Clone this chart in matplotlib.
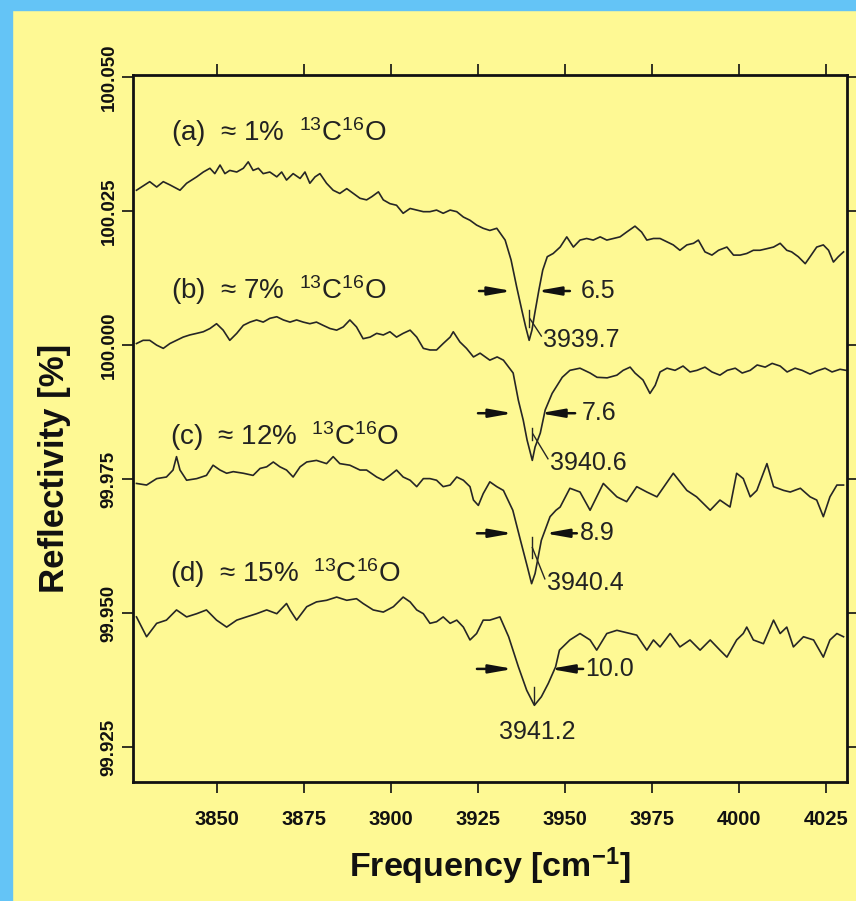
import matplotlib
matplotlib.use('Agg')
import matplotlib.pyplot as plt
from matplotlib.patches import Rectangle

plt.rcParams['font.family'] = ['Liberation Sans', 'DejaVu Sans']
plt.rcParams['mathtext.default'] = 'regular'

# ---------------- data ----------------
freq_a = [3826.9, 3830.7, 3832.7, 3834.6, 3836.5, 3839.4, 3841.3, 3844.2, 3846.1, 3848.0,
          3849.4, 3850.9, 3852.3, 3853.7, 3855.7, 3857.6, 3859.0, 3860.4, 3861.9, 3863.3,
          3865.2, 3867.2, 3868.6, 3870.0, 3871.9, 3873.9, 3875.3, 3876.7, 3878.2, 3879.6,
          3881.5, 3883.4, 3885.3, 3887.3, 3889.2, 3891.1, 3893.0, 3894.5, 3896.4, 3897.8,
          3899.7, 3901.6, 3903.5, 3905.5, 3907.4, 3909.3, 3911.2, 3913.1, 3915.0, 3917.0,
          3918.9, 3920.8, 3922.7, 3924.6, 3926.5, 3928.4, 3930.4, 3932.8, 3934.5, 3936.1,
          3937.6, 3938.7, 3939.7, 3940.5, 3941.3, 3942.5, 3943.6, 3944.9, 3946.6, 3948.6,
          3950.5, 3952.4, 3954.3, 3956.2, 3958.1, 3960.1, 3962.0, 3963.9, 3965.8, 3967.7,
          3970.1, 3972.0, 3973.5, 3975.4, 3977.3, 3979.2, 3981.1, 3983.0, 3985.0, 3986.9,
          3988.3, 3990.2, 3992.2, 3994.1, 3996.5, 3998.4, 4000.3, 4002.2, 4004.1, 4006.0,
          4008.0, 4009.9, 4011.8, 4013.7, 4015.1, 4017.0, 4019.0, 4020.4, 4022.3, 4024.2,
          4025.7, 4027.1, 4028.5, 4030.0]
refl_a = [100.0289, 100.0305, 100.0295, 100.0305, 100.0299, 100.0289, 100.0302, 100.0314, 100.0323, 100.0330,
          100.0320, 100.0336, 100.0320, 100.0326, 100.0323, 100.0330, 100.0342, 100.0326, 100.0330, 100.0320,
          100.0323, 100.0314, 100.0323, 100.0308, 100.0320, 100.0311, 100.0323, 100.0302, 100.0314, 100.0320,
          100.0302, 100.0289, 100.0283, 100.0292, 100.0283, 100.0274, 100.0271, 100.0277, 100.0286, 100.0271,
          100.0264, 100.0261, 100.0246, 100.0255, 100.0252, 100.0249, 100.0249, 100.0252, 100.0246, 100.0252,
          100.0249, 100.0239, 100.0233, 100.0224, 100.0218, 100.0214, 100.0218, 100.0196, 100.0159, 100.0109,
          100.0065, 100.0034, 100.0009, 100.0028, 100.0059, 100.0103, 100.0140, 100.0165, 100.0171, 100.0183,
          100.0202, 100.0183, 100.0196, 100.0199, 100.0196, 100.0202, 100.0196, 100.0199, 100.0202, 100.0211,
          100.0222, 100.0211, 100.0196, 100.0199, 100.0199, 100.0193, 100.0187, 100.0177, 100.0187, 100.0190,
          100.0196, 100.0174, 100.0168, 100.0177, 100.0183, 100.0168, 100.0168, 100.0171, 100.0177, 100.0177,
          100.0180, 100.0183, 100.0190, 100.0177, 100.0174, 100.0165, 100.0152, 100.0165, 100.0183, 100.0187,
          100.0177, 100.0155, 100.0165, 100.0174]

freq_b = [3826.9, 3828.8, 3830.7, 3832.7, 3834.6, 3836.5, 3838.4, 3840.3, 3842.2, 3844.2,
          3846.1, 3848.0, 3849.9, 3851.8, 3853.7, 3855.7, 3857.6, 3859.5, 3861.4, 3863.3,
          3865.2, 3867.2, 3869.1, 3871.0, 3872.9, 3874.8, 3876.7, 3878.6, 3880.5, 3882.5,
          3884.4, 3886.3, 3888.2, 3890.1, 3892.0, 3894.0, 3895.9, 3897.8, 3899.7, 3901.6,
          3903.5, 3905.5, 3907.4, 3909.3, 3911.2, 3913.1, 3915.0, 3917.0, 3917.9, 3919.8,
          3921.7, 3923.7, 3925.6, 3928.4, 3930.5, 3932.3, 3935.1, 3936.6, 3938.0, 3939.1,
          3940.6, 3941.4, 3942.9, 3944.3, 3946.3, 3949.2, 3951.4, 3954.3, 3957.2, 3959.2,
          3962.1, 3964.9, 3966.7, 3968.7, 3970.1, 3972.4, 3974.4, 3975.9, 3977.3, 3979.3,
          3981.6, 3983.9, 3985.9, 3987.9, 3990.2, 3992.2, 3994.5, 3996.6, 3998.9, 4000.9,
          4003.2, 4005.2, 4007.5, 4009.5, 4011.8, 4013.8, 4016.1, 4018.1, 4020.4, 4022.4,
          4024.7, 4026.7, 4029.0, 4030.7]
refl_b = [100.0003, 100.0009, 100.0009, 100.0000, 99.9994, 100.0003, 100.0009, 100.0015, 100.0019, 100.0022,
          100.0025, 100.0031, 100.0040, 100.0028, 100.0009, 100.0022, 100.0037, 100.0043, 100.0047, 100.0043,
          100.0050, 100.0053, 100.0047, 100.0043, 100.0047, 100.0043, 100.0040, 100.0043, 100.0037, 100.0031,
          100.0028, 100.0034, 100.0047, 100.0034, 100.0012, 100.0015, 100.0022, 100.0019, 100.0025, 100.0015,
          100.0022, 100.0028, 100.0015, 99.9994, 99.9991, 99.9991, 100.0003, 100.0015, 100.0025, 100.0006,
          99.9994, 99.9978, 99.9985, 99.9972, 99.9978, 99.9972, 99.9948, 99.9897, 99.9860, 99.9823,
          99.9785, 99.9810, 99.9836, 99.9879, 99.9910, 99.9940, 99.9953, 99.9957, 99.9948, 99.9940,
          99.9939, 99.9944, 99.9953, 99.9959, 99.9948, 99.9935, 99.9910, 99.9925, 99.9950, 99.9957,
          99.9953, 99.9961, 99.9950, 99.9953, 99.9959, 99.9950, 99.9944, 99.9953, 99.9957, 99.9948,
          99.9953, 99.9963, 99.9959, 99.9966, 99.9961, 99.9950, 99.9957, 99.9953, 99.9946, 99.9952,
          99.9957, 99.9950, 99.9955, 99.9953]

freq_c = [3826.9, 3829.8, 3832.7, 3835.5, 3837.4, 3838.4, 3839.4, 3841.3, 3844.2, 3847.0,
          3848.9, 3850.9, 3852.8, 3854.7, 3857.6, 3860.4, 3862.4, 3864.3, 3866.2, 3868.1,
          3870.0, 3871.9, 3873.9, 3875.8, 3878.6, 3881.5, 3883.4, 3885.3, 3888.2, 3891.1,
          3893.0, 3895.9, 3897.8, 3899.7, 3901.6, 3903.5, 3905.5, 3907.4, 3909.3, 3911.2,
          3913.1, 3915.0, 3917.0, 3918.9, 3920.8, 3922.7, 3923.7, 3925.1, 3926.5, 3928.4,
          3930.4, 3932.3, 3935.0, 3937.2, 3939.2, 3940.4, 3941.4, 3943.2, 3945.7, 3947.4,
          3948.6, 3951.4, 3954.3, 3957.2, 3961.0, 3964.9, 3967.7, 3970.6, 3973.5, 3976.4,
          3981.1, 3985.0, 3987.8, 3991.7, 3994.5, 3997.4, 3999.3, 4001.2, 4003.2, 4005.1,
          4008.0, 4009.9, 4012.8, 4014.7, 4017.6, 4020.4, 4022.3, 4024.2, 4026.1, 4028.1,
          4030.0]
refl_c = [99.9742, 99.9739, 99.9751, 99.9754, 99.9767, 99.9792, 99.9767, 99.9748, 99.9751, 99.9757,
          99.9776, 99.9767, 99.9761, 99.9764, 99.9761, 99.9757, 99.9770, 99.9773, 99.9782, 99.9773,
          99.9767, 99.9754, 99.9773, 99.9782, 99.9785, 99.9779, 99.9792, 99.9779, 99.9776, 99.9767,
          99.9767, 99.9754, 99.9748, 99.9757, 99.9767, 99.9754, 99.9748, 99.9736, 99.9751, 99.9751,
          99.9748, 99.9736, 99.9739, 99.9754, 99.9748, 99.9736, 99.9711, 99.9701, 99.9723, 99.9745,
          99.9736, 99.9729, 99.9692, 99.9636, 99.9586, 99.9555, 99.9574, 99.9636, 99.9680, 99.9692,
          99.9698, 99.9733, 99.9726, 99.9692, 99.9742, 99.9717, 99.9708, 99.9736, 99.9726, 99.9717,
          99.9761, 99.9729, 99.9717, 99.9692, 99.9711, 99.9698, 99.9761, 99.9751, 99.9717, 99.9729,
          99.9779, 99.9736, 99.9729, 99.9726, 99.9733, 99.9717, 99.9711, 99.9680, 99.9717, 99.9739,
          99.9739]

freq_d = [3826.9, 3829.8, 3832.7, 3835.5, 3838.4, 3841.3, 3844.2, 3847.0, 3849.9, 3852.8,
          3855.7, 3858.5, 3861.4, 3864.3, 3867.2, 3870.0, 3871.0, 3872.9, 3875.8, 3878.6,
          3881.5, 3884.4, 3887.3, 3890.1, 3892.0, 3894.9, 3897.8, 3900.7, 3903.5, 3905.5,
          3907.4, 3909.3, 3911.2, 3913.1, 3915.0, 3917.0, 3918.9, 3920.8, 3922.7, 3924.6,
          3926.5, 3928.4, 3931.3, 3933.8, 3936.6, 3939.0, 3941.2, 3943.2, 3945.2, 3947.3,
          3948.4, 3951.4, 3954.3, 3957.2, 3959.1, 3962.0, 3964.9, 3968.7, 3970.6, 3973.5,
          3975.4, 3977.3, 3980.2, 3983.0, 3985.9, 3988.8, 3991.7, 3994.5, 3996.5, 3999.3,
          4001.2, 4002.2, 4004.1, 4007.0, 4009.9, 4011.8, 4013.7, 4015.6, 4018.5, 4021.4,
          4024.2, 4026.1, 4028.1, 4030.0]
refl_d = [99.9493, 99.9456, 99.9481, 99.9487, 99.9506, 99.9493, 99.9499, 99.9506, 99.9487, 99.9474,
          99.9487, 99.9493, 99.9499, 99.9506, 99.9499, 99.9518, 99.9506, 99.9487, 99.9512, 99.9521,
          99.9524, 99.9530, 99.9524, 99.9527, 99.9518, 99.9506, 99.9502, 99.9512, 99.9530, 99.9521,
          99.9506, 99.9499, 99.9481, 99.9484, 99.9493, 99.9481, 99.9487, 99.9474, 99.9450, 99.9462,
          99.9487, 99.9487, 99.9493, 99.9456, 99.9400, 99.9356, 99.9328, 99.9344, 99.9369, 99.9400,
          99.9431, 99.9450, 99.9462, 99.9450, 99.9431, 99.9462, 99.9468, 99.9462, 99.9459, 99.9431,
          99.9450, 99.9437, 99.9462, 99.9437, 99.9450, 99.9431, 99.9450, 99.9431, 99.9418, 99.9450,
          99.9462, 99.9474, 99.9450, 99.9443, 99.9487, 99.9462, 99.9474, 99.9437, 99.9456, 99.9450,
          99.9418, 99.9450, 99.9462, 99.9456]

series_labels = ['(a)  \u2248 1%  $^{13}$C$^{16}$O', '(b)  \u2248 7%  $^{13}$C$^{16}$O',
                 '(c)  \u2248 12%  $^{13}$C$^{16}$O', '(d)  \u2248 15%  $^{13}$C$^{16}$O']
label_pos = [(3836.8, 100.0397), (3836.8, 100.0103), (3836.5, 99.9830), (3836.5, 99.9575)]

fwhm_text = ['6.5', '7.6', '8.9', '10.0']
fwhm_y = [100.0101, 99.9873, 99.9649, 99.9396]
fwhm_left = [(3925.3, 3934.8), (3925.0, 3935.1), (3924.7, 3935.1), (3924.7, 3935.1)]
fwhm_right = [(3951.4, 3941.9), (3952.9, 3942.8), (3953.4, 3944.2), (3955.2, 3945.7)]
fwhm_text_x = [3954.6, 3954.9, 3954.3, 3955.7]

peak_text = ['3939.7', '3940.6', '3940.4', '3941.2']
peak_x = [3939.7, 3940.6, 3940.4, 3941.2]
peak_mark = [(100.0065, 100.0034), (99.9845, 99.9823), (99.9642, 99.9603), (99.9362, 99.9332)]
peak_text_pos = [(3943.8, 100.0009), (3945.7, 99.9780), (3944.8, 99.9556), (3942.0, 99.9278)]

xticks = [3850, 3875, 3900, 3925, 3950, 3975, 4000, 4025]
yticks = [99.925, 99.950, 99.975, 100.000, 100.025, 100.050]
ytick_labels = ['99.925', '99.950', '99.975', '100.000', '100.025', '100.050']

# ---------------- figure ----------------
W, H = 856, 901
yellow = '#FEF994'
blue = '#64C4F6'
ink = '#222222'
fig = plt.figure(figsize=(W / 100, H / 100), dpi=100)
fig.patch.set_facecolor(yellow)
fig.add_artist(Rectangle((0, 0), 12 / W, 1, transform=fig.transFigure, color=blue, zorder=0))
fig.add_artist(Rectangle((0, 1 - 10 / H), 1, 10 / H, transform=fig.transFigure, color=blue, zorder=0))

ax = fig.add_axes([133 / W, 1 - 782 / H, (847 - 133) / W, (782 - 75) / H])
ax.set_facecolor(yellow)
ax.set_xlim(3825.9, 4031.0)
ax.set_ylim(99.9185, 100.0504)

line_col = '#262626'
for fx, ry in [(freq_a, refl_a), (freq_b, refl_b), (freq_c, refl_c), (freq_d, refl_d)]:
    ax.plot(fx, ry, color=line_col, lw=1.2)

for txt, (lx, ly) in zip(series_labels, label_pos):
    ax.text(lx, ly, txt, fontsize=20, color=ink, va='center', ha='left')

for i in range(4):
    y = fwhm_y[i]
    for tail, head in (fwhm_left[i], fwhm_right[i]):
        ax.annotate('', xy=(head, y), xytext=(tail, y),
                    arrowprops=dict(arrowstyle='-|>,head_length=1.4,head_width=0.25',
                                    color='#111111', lw=1.8, shrinkA=0, shrinkB=0))
    ax.text(fwhm_text_x[i], y, fwhm_text[i], fontsize=18, va='center', ha='left', color=ink)
    px = peak_x[i]
    y0, y1 = peak_mark[i]
    ax.plot([px, px], [y0, y1], color=line_col, lw=1.0)
    tx, ty = peak_text_pos[i]
    if i < 3:
        ax.plot([px + 0.2, tx - 0.6], [(y0 + y1) / 2, ty + 0.0008], color=line_col, lw=1.0)
        ax.text(tx, ty, peak_text[i], fontsize=18, va='center', ha='left', color=ink)
    else:
        ax.text(tx, ty, peak_text[i], fontsize=18, va='center', ha='center', color=ink)

ax.set_xticks(xticks)
ax.set_xticklabels([str(t) for t in xticks], fontsize=14.5, fontweight='bold')
ax.set_yticks(yticks)
ax.set_yticklabels(ytick_labels, rotation=90, va='center', fontsize=13.5, fontweight='bold',
                   family=['Liberation Sans Narrow', 'Liberation Sans'])
ax.tick_params(axis='both', direction='out', length=8, width=1.2, colors='#111111',
               top=True, right=True, pad=6)
ax.tick_params(axis='x', pad=12)
ax.tick_params(axis='y', pad=3)
for s in ax.spines.values():
    s.set_linewidth(2.0)
    s.set_color('#111111')

fig.text(490 / W, 1 - 866 / H, 'Frequency [cm$^{-1}$]', fontsize=24.5, fontweight='bold',
         ha='center', va='center', color='#111111')
fig.text(55 / W, 1 - 468 / H, 'Reflectivity [%]', fontsize=25, fontweight='bold',
         ha='center', va='center', rotation=90, color='#111111')

fig.savefig('out.png', dpi=100, facecolor=fig.get_facecolor())
